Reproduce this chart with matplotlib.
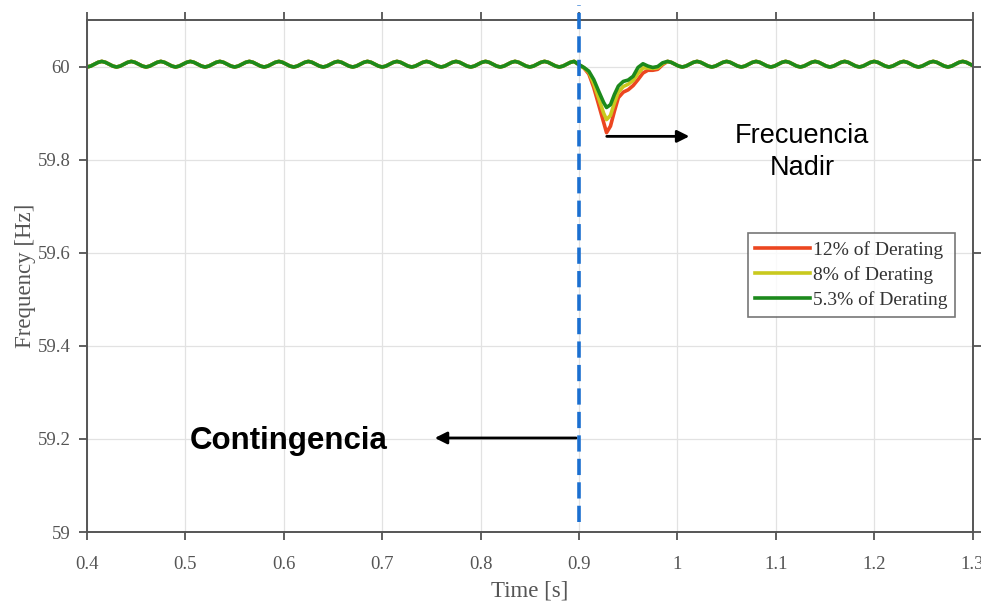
import numpy as np
import matplotlib.pyplot as plt

# Datos leídos de la figura
# tramo previo a la contingencia (común a las tres curvas), paso 0.00375 s
t_pre = np.linspace(0.4, 0.895, 133)
f_pre = [59.999, 60.001, 60.005, 60.009, 60.011, 60.009, 60.005, 60.001,
         59.999, 60.001, 60.005, 60.009, 60.011, 60.009, 60.005, 60.001,
         59.999, 60.001, 60.005, 60.009, 60.011, 60.009, 60.005, 60.001,
         59.999, 60.001, 60.005, 60.009, 60.011, 60.009, 60.005, 60.001,
         59.999, 60.001, 60.005, 60.009, 60.011, 60.009, 60.005, 60.001,
         59.999, 60.001, 60.005, 60.009, 60.011, 60.009, 60.005, 60.001,
         59.999, 60.001, 60.005, 60.009, 60.011, 60.009, 60.005, 60.001,
         59.999, 60.001, 60.005, 60.009, 60.011, 60.009, 60.005, 60.001,
         59.999, 60.001, 60.005, 60.009, 60.011, 60.009, 60.005, 60.001,
         59.999, 60.001, 60.005, 60.009, 60.011, 60.009, 60.005, 60.001,
         59.999, 60.001, 60.005, 60.009, 60.011, 60.009, 60.005, 60.001,
         59.999, 60.001, 60.005, 60.009, 60.011, 60.009, 60.005, 60.001,
         59.999, 60.001, 60.005, 60.009, 60.011, 60.009, 60.005, 60.001,
         59.999, 60.001, 60.005, 60.009, 60.011, 60.009, 60.005, 60.001,
         59.999, 60.001, 60.005, 60.009, 60.011, 60.009, 60.005, 60.001,
         59.999, 60.001, 60.005, 60.009, 60.011, 60.009, 60.005, 60.001,
         59.999, 60.001, 60.005, 60.009, 60.011]

# caída de frecuencia tras la contingencia
t_dip = [0.900, 0.905, 0.910, 0.915, 0.920, 0.925, 0.928, 0.932, 0.936, 0.940,
         0.945, 0.950, 0.955, 0.960, 0.965, 0.970, 0.975, 0.980, 0.985, 0.990]
f_dip_12 = [60.004, 59.997, 59.984, 59.955, 59.918, 59.880, 59.858, 59.872, 59.904, 59.933,
            59.945, 59.950, 59.959, 59.972, 59.986, 59.992, 59.992, 59.994, 60.004, 60.011]
f_dip_8 = [60.004, 59.997, 59.988, 59.963, 59.932, 59.900, 59.886, 59.895, 59.922, 59.945,
           59.957, 59.962, 59.970, 59.985, 59.997, 59.997, 59.996, 59.997, 60.006, 60.011]
f_dip_53 = [60.004, 59.998, 59.990, 59.972, 59.947, 59.923, 59.912, 59.918, 59.940, 59.958,
            59.968, 59.971, 59.979, 59.998, 60.006, 60.001, 59.998, 60.000, 60.008, 60.011]

# tramo posterior (común), paso 0.00375 s
t_post = np.linspace(0.99, 1.305, 85)
f_post = [60.011, 60.009, 60.005, 60.001, 59.999, 60.001, 60.005, 60.009,
          60.011, 60.009, 60.005, 60.001, 59.999, 60.001, 60.005, 60.009,
          60.011, 60.009, 60.005, 60.001, 59.999, 60.001, 60.005, 60.009,
          60.011, 60.009, 60.005, 60.001, 59.999, 60.001, 60.005, 60.009,
          60.011, 60.009, 60.005, 60.001, 59.999, 60.001, 60.005, 60.009,
          60.011, 60.009, 60.005, 60.001, 59.999, 60.001, 60.005, 60.009,
          60.011, 60.009, 60.005, 60.001, 59.999, 60.001, 60.005, 60.009,
          60.011, 60.009, 60.005, 60.001, 59.999, 60.001, 60.005, 60.009,
          60.011, 60.009, 60.005, 60.001, 59.999, 60.001, 60.005, 60.009,
          60.011, 60.009, 60.005, 60.001, 59.999, 60.001, 60.005, 60.009,
          60.011, 60.009, 60.005, 60.001, 59.999]

series = [("12% of Derating", f_dip_12, "#ec4620"),
          ("8% of Derating", f_dip_8, "#c9c91e"),
          ("5.3% of Derating", f_dip_53, "#1c8a1c")]

x_ticks = [0.4, 0.5, 0.6, 0.7, 0.8, 0.9, 1.0, 1.1, 1.2, 1.3]
x_labels = ["0.4", "0.5", "0.6", "0.7", "0.8", "0.9", "1", "1.1", "1.2", "1.3"]
y_ticks = [59.0, 59.2, 59.4, 59.6, 59.8, 60.0]
y_labels = ["59", "59.2", "59.4", "59.6", "59.8", "60"]

t_contingencia = 0.9

fig = plt.figure(figsize=(9.81, 6.04), dpi=100)
ax = fig.add_axes([0.0887, 0.1192, 0.9027, 0.8477])

for nombre, f_dip, color in series:
    t = np.concatenate([t_pre, t_dip, t_post])
    f = np.concatenate([f_pre, f_dip, f_post])
    ax.plot(t, f, color=color, lw=2.6, label=nombre)

ax.set_xlim(0.4, 1.3)
ax.set_ylim(59.0, 60.1)
ax.set_xticks(x_ticks)
ax.set_xticklabels(x_labels)
ax.set_yticks(y_ticks)
ax.set_yticklabels(y_labels)
ax.grid(True, color="#e2e2e2", lw=0.9)
ax.tick_params(direction="out", length=6, width=1.2, color="#444444",
               labelsize=13.5, labelcolor="#555555", top=True, right=True)
ax.tick_params(axis="x", pad=11)
ax.tick_params(axis="y", pad=6)
for lab in ax.get_xticklabels() + ax.get_yticklabels():
    lab.set_family("Liberation Serif")
for s in ax.spines.values():
    s.set_color("#555555")
    s.set_linewidth(1.4)

ax.set_xlabel("Time [s]", family="Liberation Serif", fontsize=16.5, color="#555555", labelpad=6)
ax.set_ylabel("Frequency [Hz]", family="Liberation Serif", fontsize=16.5, color="#555555", labelpad=1)

leg = ax.legend(loc="upper left", bbox_to_anchor=(0.746, 0.584), borderaxespad=0,
                prop={"family": "Liberation Serif", "size": 14}, frameon=True,
                fancybox=False, handlelength=2.8, handletextpad=0.15,
                labelspacing=0.38, borderpad=0.4)
leg.get_frame().set_edgecolor("#555555")
leg.get_frame().set_linewidth(1.2)
for txt in leg.get_texts():
    txt.set_color("#333333")

# línea de la contingencia
ax.axvline(t_contingencia, ymin=0.0195, ymax=1.029, color="#1b6fd0", lw=2.6,
           ls=(0, (4.5, 2)), clip_on=False, zorder=5)

# anotaciones
ax.annotate("", xy=(0.7506, 59.202), xytext=(0.9, 59.202),
            arrowprops=dict(arrowstyle="-|>", color="black", lw=2, mutation_scale=18))
ax.text(0.605, 59.196, "Contingencia", family="Liberation Sans", fontweight="bold",
        fontsize=22.5, ha="center", va="center")

ax.annotate("", xy=(1.015, 59.85), xytext=(0.9254, 59.85),
            arrowprops=dict(arrowstyle="-|>", color="black", lw=2, mutation_scale=18))
ax.text(1.127, 59.816, "Frecuencia\nNadir", family="Liberation Sans",
        fontsize=19.5, ha="center", va="center", linespacing=1.3)

fig.savefig("out.png", dpi=100)
